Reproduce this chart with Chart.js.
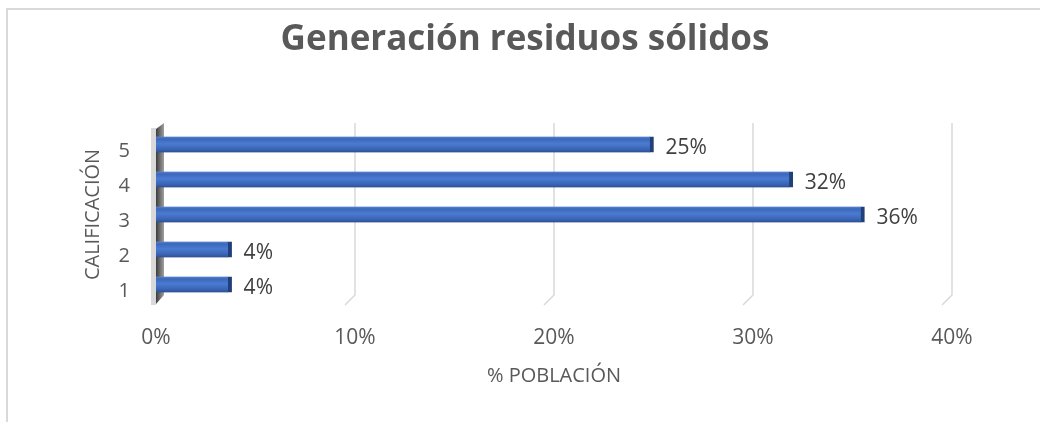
<!DOCTYPE html>
<html>
<head>
<meta charset="utf-8">
<script src="https://cdn.jsdelivr.net/npm/chart.js@4"></script>
<style>
  body { margin: 0; background: #fff; }
  #frame {
    position: absolute; left: 6px; top: 8px;
    width: 1100px; height: 500px;
    border: 2px solid #d9d9d9;
  }
  #wrap { position: absolute; left: 0; top: 0; width: 1040px; height: 422px; }
</style>
</head>
<body>
<div id="frame"></div>
<div id="wrap"><canvas id="chart"></canvas></div>
<script>
const CATEGORIES = ["5", "4", "3", "2", "1"];
const VALUES = [25.0, 32.0, 35.6, 3.8, 3.8];
const X_TICKS = [0, 10, 20, 30, 40];

const TITLE = "Generación residuos sólidos";
const X_TITLE = "% POBLACIÓN";
const Y_TITLE = "CALIFICACIÓN";

const FONT = "'Open Sans', 'Noto Sans', sans-serif";
const BAR_THICKNESS = 16;

// bar fill: vertical gradient to give the rounded 3D look
const barFill = (context) => {
  const chart = context.chart;
  const yScale = chart.scales.y;
  if (!chart.chartArea || !yScale) return "#4472c4";
  const y = yScale.getPixelForValue(context.dataIndex);
  if (!isFinite(y)) return "#4472c4";
  const g = chart.ctx.createLinearGradient(0, y - BAR_THICKNESS / 2, 0, y + BAR_THICKNESS / 2);
  g.addColorStop(0, "#5d85d0");
  g.addColorStop(0.15, "#3b67bb");
  g.addColorStop(0.45, "#4a7bd2");
  g.addColorStop(0.8, "#3a64b4");
  g.addColorStop(1, "#2c4f90");
  return g;
};

// back wall, grid lines with their small diagonal floor part, and data labels
const wallPlugin = {
  id: "wall",
  beforeDatasetsDraw(chart) {
    const { ctx, chartArea, scales } = chart;
    const x0 = scales.x.getPixelForValue(0);
    ctx.save();

    ctx.strokeStyle = "#d9d9d9";
    ctx.lineWidth = 1.5;
    X_TICKS.forEach((t) => {
      if (t === 0) return;
      const x = scales.x.getPixelForValue(t);
      ctx.beginPath();
      ctx.moveTo(x, chartArea.top - 4);
      ctx.lineTo(x, chartArea.bottom - 7);
      ctx.lineTo(x - 10, chartArea.bottom + 3);
      ctx.stroke();
    });

    ctx.fillStyle = "#d9d9d9";
    ctx.fillRect(x0 - 5, chartArea.top + 1, 5, chartArea.bottom - chartArea.top + 2);
    const g = ctx.createLinearGradient(x0, 0, x0 + 8, 0);
    g.addColorStop(0, "#3c3c3c");
    g.addColorStop(1, "#a0a0a0");
    ctx.fillStyle = g;
    ctx.beginPath();
    ctx.moveTo(x0, chartArea.top + 2);
    ctx.lineTo(x0 + 8, chartArea.top - 4);
    ctx.lineTo(x0 + 8, chartArea.bottom - 7);
    ctx.lineTo(x0, chartArea.bottom + 2);
    ctx.closePath();
    ctx.fill();
    ctx.restore();
  },
  afterDatasetsDraw(chart) {
    const { ctx } = chart;
    const meta = chart.getDatasetMeta(0);
    ctx.save();
    ctx.fillStyle = "#404040";
    ctx.font = `21px ${FONT}`;
    ctx.textBaseline = "middle";
    meta.data.forEach((bar, i) => {
      ctx.fillText(`${Math.round(VALUES[i])}%`, bar.x + 12, bar.y + 4);
    });
    ctx.restore();
  },
};

new Chart(document.getElementById("chart"), {
  type: "bar",
  data: {
    labels: CATEGORIES,
    datasets: [
      {
        data: VALUES,
        backgroundColor: barFill,
        borderColor: "#213f78",
        borderWidth: { top: 0, bottom: 0, left: 0, right: 4 },
        borderSkipped: false,
        barThickness: BAR_THICKNESS,
      },
    ],
  },
  options: {
    indexAxis: "y",
    responsive: true,
    maintainAspectRatio: false,
    animation: false,
    layout: {
      padding: { top: 0, right: 0, bottom: 34, left: 10 },
    },
    scales: {
      x: {
        min: 0,
        max: 40,
        afterFit: (scale) => {
          scale.height = 86;
        },
        ticks: {
          stepSize: 10,
          padding: 23,
          color: "#595959",
          font: { family: FONT, size: 21 },
          callback: (v) => `${v}%`,
        },
        grid: { display: false, drawTicks: false },
        border: { display: false },
        title: {
          display: true,
          text: X_TITLE,
          color: "#595959",
          font: { family: FONT, size: 20 },
          padding: { top: 0, bottom: 0 },
        },
      },
      y: {
        afterFit: (scale) => {
          scale.width = 146;
        },
        ticks: {
          padding: 26,
          labelOffset: 7,
          color: "#595959",
          font: { family: FONT, size: 20 },
        },
        grid: { display: false, drawTicks: false },
        border: { display: false },
        title: {
          display: true,
          text: Y_TITLE,
          color: "#595959",
          font: { family: FONT, size: 20 },
          padding: { top: 71, bottom: 0 },
        },
      },
      // empty axis that only reserves the space on the right of the plot
      y2: {
        type: "category",
        position: "right",
        afterFit: (scale) => {
          scale.width = 88;
        },
        ticks: { display: false },
        grid: { display: false, drawTicks: false },
        border: { display: false },
      },
    },
    plugins: {
      legend: { display: false },
      tooltip: { enabled: false },
      title: {
        display: true,
        text: TITLE,
        color: "#595959",
        font: { family: FONT, size: 35, weight: "bold" },
        padding: { top: 19, bottom: 66 },
      },
    },
  },
  plugins: [wallPlugin],
});
</script>
</body>
</html>
